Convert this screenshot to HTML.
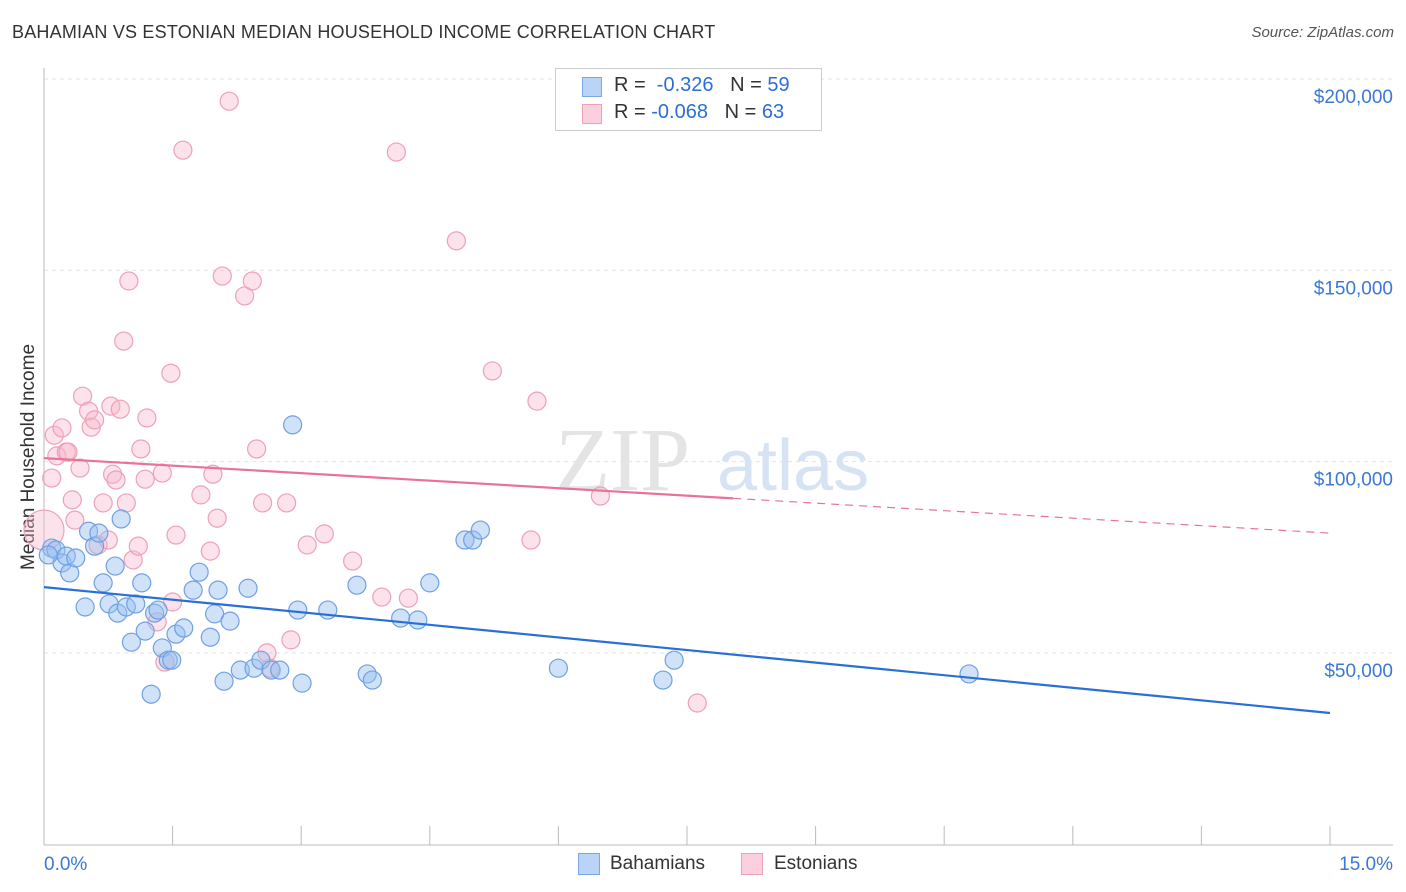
<!DOCTYPE html>
<html><head><meta charset="utf-8">
<style>
body{margin:0;background:#fff;font-family:"Liberation Sans",sans-serif;}
#wrap{position:relative;width:1406px;height:892px;overflow:hidden;}
.t{position:absolute;white-space:nowrap;}
</style></head>
<body>
<div id="wrap">
<div class="t" style="left:12px;top:22px;font-size:18px;color:#333;letter-spacing:0.2px">BAHAMIAN VS ESTONIAN MEDIAN HOUSEHOLD INCOME CORRELATION CHART</div>
<div class="t" style="right:12px;top:24px;font-size:15px;color:#555;font-style:italic">Source: ZipAtlas.com</div>
<svg id="svg" width="1406" height="892" style="position:absolute;left:0;top:0"></svg>
</div>
<script>
const xTicks=[0,1.5,3,4.5,6,7.5,9,10.5,12,13.5,15];
const yTicks=[50000,100000,150000,200000];
const yTickLabels=["$50,000","$100,000","$150,000","$200,000"];
const blueX=[0.09,0.14,0.21,0.30,0.26,0.37,0.48,0.52,0.59,0.64,0.69,0.76,0.83,0.86,0.90,0.96,1.02,1.07,1.14,1.18,1.25,1.29,1.33,1.38,1.45,1.49,1.54,1.63,1.74,1.81,1.94,1.99,2.03,2.10,2.17,2.29,2.38,2.45,2.53,2.65,2.75,2.90,2.96,3.01,3.31,3.65,3.77,3.83,4.16,4.36,4.50,4.91,5.00,5.09,6.00,7.22,7.35,10.79,0.05];
const blueY=[77.4,76.9,73.5,70.9,75.3,74.8,62.0,81.8,77.9,81.3,68.3,62.8,72.7,60.4,85.0,62.0,52.8,62.8,68.3,55.7,39.2,60.4,61.2,51.3,48.1,48.1,54.9,56.5,66.4,71.1,54.1,60.2,66.4,42.6,58.3,45.5,66.9,46.0,48.1,45.5,45.5,109.6,61.2,42.1,61.2,67.7,44.5,42.9,59.1,58.6,68.3,79.5,79.5,82.1,46.0,42.9,48.1,44.5,75.6];
const pinkX=[0.0,0.09,0.12,0.15,0.21,0.26,0.28,0.33,0.36,0.42,0.45,0.52,0.55,0.59,0.63,0.69,0.75,0.78,0.80,0.84,0.89,0.93,0.96,0.99,1.04,1.10,1.13,1.18,1.20,1.32,1.38,1.41,1.48,1.50,1.54,1.62,1.83,1.94,1.97,2.02,2.08,2.16,2.34,2.43,2.48,2.55,2.60,2.64,2.83,2.88,3.07,3.27,3.60,3.94,4.11,4.25,4.81,5.23,5.68,5.75,6.49,7.62];
const pinkY=[82.1,95.7,106.9,101.5,108.8,102.5,102.5,90.0,84.7,98.3,117.1,113.2,109.0,110.9,78.2,89.2,79.5,114.5,96.7,95.2,113.7,131.5,89.2,147.2,74.3,77.9,103.3,95.4,111.4,58.1,97.0,47.6,123.1,63.3,80.8,181.4,91.3,76.6,96.7,85.2,148.5,194.2,143.3,147.2,103.3,89.2,50.0,46.0,89.2,53.4,78.2,81.1,74.0,64.6,180.9,64.3,157.7,123.7,79.5,115.8,91.0,36.9];
const blueTrend=[67.2,34.3];
const pinkTrend=[100.9,81.3];
const pinkSolidEnd=8.04;

const X=v=>44+v*(1330-44)/15;
const Y=v=>79+(200000-v)*191.3/50000;
const svg=document.getElementById('svg');
const NS='http://www.w3.org/2000/svg';
function mk(t,a){const e=document.createElementNS(NS,t);for(const k in a)e.setAttribute(k,a[k]);svg.appendChild(e);return e;}

// gridlines
yTicks.forEach((v,i)=>{
 const g=mk('line',{x1:44,x2:1393,y1:Y(v),y2:Y(v),stroke:'#e2e2e2','stroke-dasharray':'4,4'});
 
 
 const t=mk('text',{x:1393,y:Y(v)+24,'text-anchor':'end','font-size':19,fill:'#3a78d4'});
 t.textContent=yTickLabels[i];
 
 
});
const tg=mk('line',{x1:44,x2:1393,y1:79,y2:79,stroke:'#e2e2e2','stroke-dasharray':'4,4'});
// axes
const ax=mk('line',{x1:44,x2:1393,y1:845,y2:845,stroke:'#bbb'});


const ay=mk('line',{x1:44,x2:44,y1:68,y2:845,stroke:'#bbb'});


xTicks.forEach(v=>{
 const l=mk('line',{x1:X(v),x2:X(v),y1:826,y2:845,stroke:'#bbb'});
 
 
});
const xl0=mk('text',{x:44,y:870,'font-size':19,fill:'#3a78d4'});xl0.textContent=xTicks[0].toFixed(1)+'%';


const xl1=mk('text',{x:1393,y:870,'text-anchor':'end','font-size':19,fill:'#3a78d4'});xl1.textContent=xTicks[xTicks.length-1].toFixed(1)+'%';


const yt=mk('text',{x:34,y:457,'text-anchor':'middle','font-size':19,fill:'#333',transform:'rotate(-90 34 457)'});
yt.textContent='Median Household Income';


// watermark
const wm=mk('text',{x:555,y:490,'font-size':90,fill:'#e4e4e4','font-family':'Liberation Serif'});wm.textContent='ZIP';


const wm2=mk('text',{x:717,y:490,'font-size':72,fill:'#d6e3f4'});wm2.textContent='atlas';



// points
pinkX.forEach((x,i)=>{
 const c=mk('circle',{cx:X(x),cy:Y(pinkY[i]*1000),r:i===0?20:9,fill:'rgba(248,182,202,0.4)',stroke:'#eea0b8','stroke-width':1.2});
 
 
});
blueX.forEach((x,i)=>{
 const c=mk('circle',{cx:X(x),cy:Y(blueY[i]*1000),r:9,fill:'rgba(150,190,240,0.45)',stroke:'#6fa0e2','stroke-width':1.2});
 
 
});
// trends
const bt=mk('line',{x1:X(0),y1:Y(blueTrend[0]*1000),x2:X(15),y2:Y(blueTrend[1]*1000),stroke:'#2a6fd6','stroke-width':2.2});


const pAt=v=>pinkTrend[0]+(pinkTrend[1]-pinkTrend[0])*v/15;
const ps=mk('line',{x1:X(0),y1:Y(pAt(0)*1000),x2:X(pinkSolidEnd),y2:Y(pAt(pinkSolidEnd)*1000),stroke:'#e8739a','stroke-width':2.2});


const pd=mk('line',{x1:X(pinkSolidEnd),y1:Y(pAt(pinkSolidEnd)*1000),x2:X(15),y2:Y(pAt(15)*1000),stroke:'#e8739a','stroke-width':1.2,'stroke-dasharray':'8,6'});


</script>
<div class="t" style="left:555px;top:68px;width:265px;height:61px;border:1px solid #ccc;background:#fff;font-size:20px;color:#333">
 <div style="position:absolute;left:26px;top:8px;width:18px;height:18px;background:#b9d4f7;border:1px solid #7aa8e6"></div>
 <div style="position:absolute;left:58px;top:5px">R = &nbsp;<span style="color:#2a6fd6">-0.326</span> &nbsp;&nbsp;N = <span style="color:#2a6fd6">59</span></div>
 <div style="position:absolute;left:26px;top:35px;width:18px;height:18px;background:#fbd0dc;border:1px solid #eea0b8"></div>
 <div style="position:absolute;left:58px;top:32px">R = <span style="color:#2a6fd6">-0.068</span> &nbsp;&nbsp;N = <span style="color:#2a6fd6">63</span></div>
</div>
<div class="t" style="left:578px;top:853px;width:20px;height:20px;background:#b9d4f7;border:1px solid #7aa8e6"></div>
<div class="t" style="left:610px;top:853px;font-size:19px;color:#333">Bahamians</div>
<div class="t" style="left:741px;top:853px;width:20px;height:20px;background:#fbd0dc;border:1px solid #eea0b8"></div>
<div class="t" style="left:774px;top:853px;font-size:19px;color:#333">Estonians</div>
</body></html>
